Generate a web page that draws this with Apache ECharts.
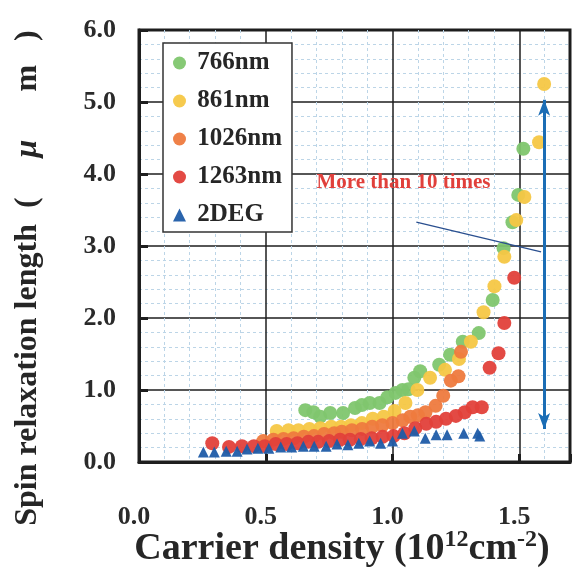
<!DOCTYPE html>
<html>
<head>
<meta charset="utf-8">
<script src="https://cdn.jsdelivr.net/npm/echarts@6/dist/echarts.min.js"></script>
<style>
html,body{margin:0;padding:0;background:#fff;}
#chart{width:573px;height:570px;}
</style>
</head>
<body>
<div id="chart"></div>
<script>
// ---- Data ----
const seriesNames = ['766nm', '861nm', '1026nm', '1263nm', '2DEG'];

const x766 = [0.656,0.688,0.715,0.754,0.805,0.852,0.879,0.910,0.949,0.980,1.012,1.039,1.063,1.086,1.109,1.184,1.227,1.277,1.340,1.395,1.438,1.473,1.496,1.516];
const y766 = [0.72,0.69,0.63,0.68,0.68,0.75,0.79,0.82,0.82,0.90,0.96,1.00,1.01,1.17,1.26,1.35,1.49,1.67,1.79,2.25,2.97,3.33,3.71,4.35];

const x861 = [0.543,0.590,0.629,0.672,0.715,0.758,0.797,0.836,0.879,0.922,0.965,1.008,1.051,1.098,1.148,1.207,1.262,1.309,1.359,1.402,1.441,1.488,1.520,1.578,1.598];
const y861 = [0.43,0.44,0.44,0.46,0.47,0.49,0.49,0.51,0.54,0.60,0.63,0.71,0.82,1.00,1.17,1.28,1.43,1.67,2.08,2.44,2.85,3.36,3.68,4.44,5.25];

const x1026 = [0.49,0.53,0.57,0.61,0.65,0.69,0.73,0.77,0.80,0.84,0.88,0.92,0.96,1.00,1.04,1.07,1.10,1.13,1.17,1.20,1.23,1.26,1.27];
const y1026 = [0.29,0.31,0.32,0.33,0.35,0.36,0.39,0.40,0.42,0.44,0.46,0.49,0.51,0.54,0.58,0.63,0.65,0.69,0.78,0.92,1.13,1.19,1.53];

const x1263 = [0.289,0.355,0.406,0.453,0.496,0.539,0.582,0.625,0.668,0.707,0.750,0.793,0.832,0.875,0.918,0.961,1.004,1.047,1.090,1.133,1.172,1.211,1.250,1.285,1.316,1.352,1.383,1.418,1.441,1.480];
const y1263 = [0.26,0.21,0.22,0.22,0.22,0.25,0.25,0.26,0.28,0.28,0.29,0.31,0.31,0.32,0.33,0.35,0.36,0.40,0.47,0.53,0.56,0.60,0.64,0.69,0.76,0.76,1.31,1.51,1.93,2.56];

const x2DEG = [0.254,0.297,0.344,0.387,0.426,0.469,0.512,0.559,0.602,0.648,0.691,0.738,0.781,0.824,0.867,0.910,0.953,1.000,1.039,1.086,1.129,1.172,1.215,1.281,1.336,1.344];
const y2DEG = [0.14,0.14,0.15,0.15,0.18,0.19,0.19,0.21,0.21,0.22,0.22,0.22,0.25,0.24,0.26,0.29,0.26,0.29,0.40,0.43,0.33,0.38,0.38,0.40,0.40,0.36];

const xTicks = [0.0, 0.5, 1.0, 1.5];
const yTicks = [0.0, 1.0, 2.0, 3.0, 4.0, 5.0, 6.0];

// annotation positions in data coordinates
const noteText = 'More than 10 times';
const notePos = [0.70, 3.87];
const pointerLine = [[1.094, 3.33], [1.586, 2.92]];
const arrowLine = [[1.598, 0.46], [1.598, 5.03]];

// ---- Build ----
const xs = [x766, x861, x1026, x1263, x2DEG];
const ys = [y766, y861, y1026, y1263, y2DEG];
const colors = ['#80c66e', '#f6c744', '#ee7a3e', '#e2403a', '#1f5ca8'];
const symbols = ['circle', 'circle', 'circle', 'circle', 'triangle'];
const sizes = [14, 14, 14, 14, 11];

const serif = 'Liberation Serif';

const series = seriesNames.map((n, i) => ({
  name: n,
  type: 'scatter',
  symbol: symbols[i],
  symbolSize: sizes[i],
  itemStyle: { color: colors[i], opacity: 0.95 },
  data: xs[i].map((v, k) => [v, ys[i][k]]),
  z: 3 + i
}));

// annotation lines as markLines on an empty helper series
series.push({
  type: 'scatter',
  data: [],
  silent: true,
  z: 10,
  markLine: {
    silent: true,
    animation: false,
    label: { show: false },
    data: [
      [{ coord: pointerLine[0], symbol: 'none', lineStyle: { color: '#2a4f8f', width: 1.3, type: 'solid' } },
       { coord: pointerLine[1], symbol: 'none' }],
      [{ coord: arrowLine[0], symbol: 'arrow', symbolSize: [9, 16], lineStyle: { color: '#1b6db5', width: 3, type: 'solid' } },
       { coord: arrowLine[1], symbol: 'arrow', symbolSize: [9, 16] }]
    ]
  }
});

const chart = echarts.init(document.getElementById('chart'), null, { renderer: 'canvas' });

chart.setOption({
  animation: false,
  backgroundColor: '#ffffff',
  grid: { left: 139, top: 30, width: 435, height: 432, show: true, borderColor: '#1e1e1e', borderWidth: 3, backgroundColor: 'transparent' },
  xAxis: {
    type: 'value', min: 0, max: 1.7, interval: 0.5,
    axisLine: { show: true, onZero: false, lineStyle: { color: '#1e1e1e', width: 3 } },
    axisTick: { show: true, inside: true, length: 8, lineStyle: { color: '#1e1e1e', width: 3 } },
    minorTick: { show: false, splitNumber: 5 },
    splitLine: { show: true, lineStyle: { color: '#1e1e1e', width: 1.5 } },
    minorSplitLine: { show: true, lineStyle: { color: '#bcd5e7', width: 1, type: [3, 3] } },
    axisLabel: {
      margin: 42, padding: [0, 10, 0, 0],
      fontFamily: serif, fontWeight: 'bold', fontSize: 26, color: '#2a2a2a',
      formatter: v => (xTicks.some(t => Math.abs(t - v) < 1e-9) ? v.toFixed(1) : '')
    }
  },
  yAxis: {
    type: 'value', min: 0, max: 6, interval: 1,
    axisLine: { show: true, onZero: false, lineStyle: { color: '#1e1e1e', width: 3 } },
    axisTick: { show: true, inside: true, length: 9, lineStyle: { color: '#1e1e1e', width: 3 } },
    minorTick: { show: false, splitNumber: 5 },
    splitLine: { show: true, lineStyle: { color: '#1e1e1e', width: 1.5 } },
    minorSplitLine: { show: true, lineStyle: { color: '#bcd5e7', width: 1, type: [3, 3] } },
    axisLabel: {
      margin: 23,
      fontFamily: serif, fontWeight: 'bold', fontSize: 26, color: '#2a2a2a',
      formatter: v => (yTicks.some(t => Math.abs(t - v) < 1e-9) ? v.toFixed(1) : '')
    }
  },
  legend: {
    show: true, orient: 'vertical', left: 163, top: 43,
    data: seriesNames,
    padding: [7, 10, 4, 10], itemGap: 12,
    itemWidth: 13, itemHeight: 13,
    backgroundColor: '#ffffff', borderColor: '#333', borderWidth: 1.5, borderRadius: 0,
    formatter: n => ' ' + n,
    textStyle: { fontFamily: serif, fontWeight: 'bold', fontSize: 25, lineHeight: 26, color: '#262626' },
    selectedMode: false
  },
  series: series
});

const np = chart.convertToPixel({ gridIndex: 0 }, notePos);

chart.setOption({
  graphic: [
    {
      type: 'text', left: np[0], top: np[1] - 11, z: 20,
      style: { text: noteText, fill: '#e0403c', font: 'bold 21px "Liberation Serif"' }
    },
    {
      type: 'text', x: 28, y: 278, rotation: Math.PI / 2, z: 20,
      style: {
        text: '{b|Spin relaxation length  (     }{i|μ}{b|      m   )}',
        align: 'center', verticalAlign: 'middle',
        rich: {
          b: { font: 'bold 32px "Liberation Serif"', fill: '#262626' },
          i: { font: 'italic bold 32px "Liberation Serif"', fill: '#262626' }
        }
      }
    },
    {
      type: 'text', x: 342, y: 549, z: 20,
      style: {
        text: '{b|Carrier density (10}{s|12}{b|cm}{s|-2}{b|)}',
        align: 'center', verticalAlign: 'middle',
        rich: {
          b: { font: 'bold 38px "Liberation Serif"', fill: '#262626', lineHeight: 42 },
          s: { font: 'bold 24px "Liberation Serif"', fill: '#262626', lineHeight: 42, verticalAlign: 'top', padding: [0, 0, 16, 0] }
        }
      }
    }
  ]
});
</script>
</body>
</html>
